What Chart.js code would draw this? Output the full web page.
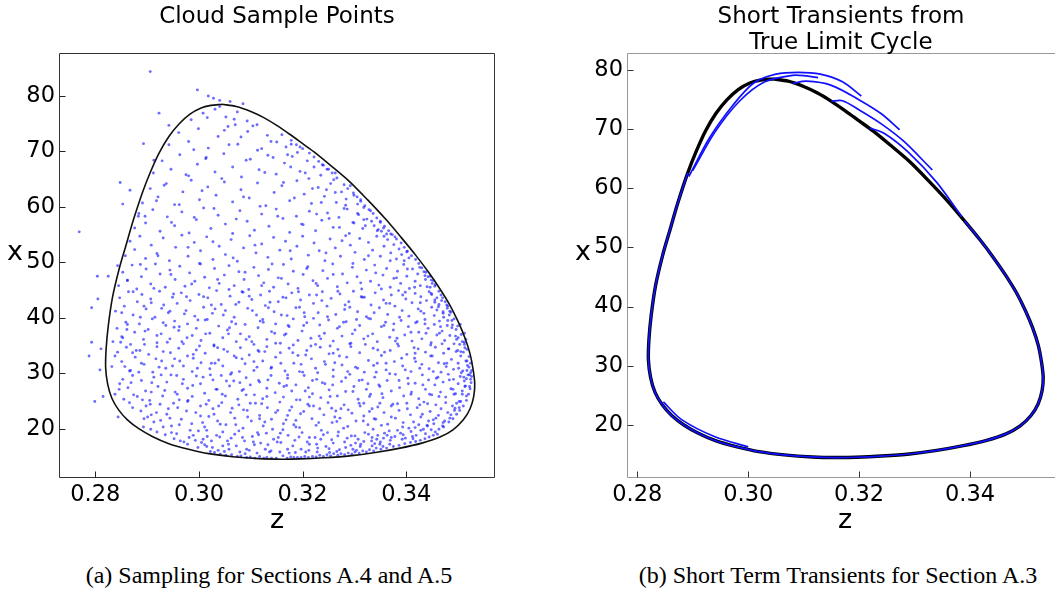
<!DOCTYPE html>
<html>
<head>
<meta charset="utf-8">
<script src="https://cdn.jsdelivr.net/npm/chart.js@4.4.0/dist/chart.umd.min.js"></script>
<style>
body{margin:0;background:#fff;width:1055px;height:593px;overflow:hidden;position:relative;font-family:'DejaVu Sans',sans-serif;color:#000}
canvas{position:absolute;top:0}
#c1{left:0}
#c2{left:540px}
.t{position:absolute;text-align:center;white-space:nowrap}
.ttl{font-size:23px;line-height:25.5px}
.ax{font-size:27px;line-height:30px}
.cap{font-family:'Liberation Serif',serif;font-size:24px;line-height:28px}
</style>
</head>
<body>
<canvas id="c1" width="520" height="530"></canvas>
<canvas id="c2" width="530" height="530"></canvas>
<div class="t ttl" style="left:77px;width:400px;top:3px">Cloud Sample Points</div>
<div class="t ttl" style="left:641px;width:400px;top:3px">Short Transients from<br>True Limit Cycle</div>
<div class="t ax" style="left:0;width:30px;top:236px">x</div>
<div class="t ax" style="left:568px;width:30px;top:236px">x</div>
<div class="t ax" style="left:262px;width:30px;top:504px">z</div>
<div class="t ax" style="left:830px;width:30px;top:504px">z</div>
<div class="t cap" style="left:69px;width:400px;top:561px">(a) Sampling for Sections A.4 and A.5</div>
<div class="t cap" style="left:638px;width:400px;top:561px">(b) Short Term Transients for Section A.3</div>
<script>
'use strict';
// tick labels
var zTicks = [0.28, 0.30, 0.32, 0.34];
var xTicks = [20, 30, 40, 50, 60, 70, 80];

// limit cycle (z, x), clockwise from the top
var cycleZ = [0.3044,0.3072,0.3100,0.3125,0.3150,0.3175,0.3200,0.3225,0.3255,0.3290,0.3325,0.3360,0.3390,0.3418,0.3443,0.3465,0.3484,0.3500,0.3513,0.3523,0.3529,0.3532,0.3530,0.3523,0.3510,0.3490,0.3465,0.3430,0.3388,0.3340,0.3291,0.3240,0.3195,0.3160,0.3116,0.3065,0.3019,0.2980,0.2942,0.2910,0.2884,0.2862,0.2845,0.2832,0.2824,0.2820,0.2821,0.2825,0.2833,0.2846,0.2859,0.2873,0.2891,0.2906,0.2923,0.2942,0.2962,0.2982,0.3003,0.3023,0.3044];
var cycleX = [78.5,78.1,77.2,76.1,74.7,73.1,71.4,69.7,67.4,64.6,61.3,57.8,54.5,51.3,48.2,45.2,42.3,39.3,36.4,33.5,30.6,28.0,25.8,23.6,21.6,19.8,18.5,17.4,16.5,15.7,15.1,14.75,14.55,14.5,14.6,14.95,15.5,16.3,17.3,18.6,20.0,21.6,23.4,25.5,28.0,31.0,34.5,38.5,43.6,48.8,53.0,57.5,62.6,66.2,69.7,72.7,75.0,76.7,77.8,78.3,78.5];

// short transients (z, x)
var trans1 = [[0.2893,62.0],[0.2930,68.5],[0.2972,74.0],[0.3010,77.8],[0.3050,79.3],[0.3090,79.6],[0.3130,79.3],[0.3170,78.0],[0.3204,75.6]];
var trans2 = [[0.2900,63.0],[0.2940,69.5],[0.2985,74.8],[0.3030,78.0],[0.3080,79.1],[0.3105,79.0],[0.3126,78.7]];
var trans3 = [[0.3080,77.7],[0.3105,78.1],[0.3150,77.4],[0.3201,74.9],[0.3240,72.6],[0.3273,69.9]];
var trans4 = [[0.3150,74.7],[0.3170,74.8],[0.3201,73.2],[0.3240,70.9],[0.3280,68.0],[0.3332,63.1]];
var trans5 = [[0.3219,70.2],[0.3245,69.3],[0.3290,66.0],[0.3340,61.0],[0.3385,55.2]];
var trans6 = [[0.2847,23.9],[0.2880,20.9],[0.2940,18.0],[0.3000,16.3]];

// cloud samples, pairs of z*1e4, x*10
var cloudBottom = [3022,159,3041,154,3063,153,3081,151,3099,149,3117,150,3131,148,3149,147,3162,151,3177,149,3190,148,3204,150,3219,150,3233,152,3247,153,3260,155,3274,155,3288,156,3301,158,3316,160,3329,162,3342,165,3355,168,3368,172,
2998,166,3015,168,3037,161,3058,163,3079,158,3097,161,3112,156,3139,160,3156,158,3171,163,3186,157,3212,161,3228,158,3251,164,3266,159,3283,166,3297,163,3311,168,3334,169,3349,172,2978,172,3005,175,2964,178,
3030,157,3052,152,3074,150,3092,148,3108,147,3125,147,3140,147,3170,147,3183,148,3197,148,3211,148,3226,149,3240,150,3254,151,3268,152,3281,153,3295,154,3309,156,3323,158,3337,160,3351,163,3362,165,3375,168,3386,170,3397,173,3408,175,3418,177,3427,179,3436,182,3444,185,3452,188,3460,190,
2952,182,2971,176,2989,188,3008,181,3024,178,3040,185,3057,172,3069,190,3088,178,3103,186,3119,174,3130,192,3144,181,3158,175,3172,188,3185,179,3199,193,3213,184,3227,172,3240,189,3256,180,3269,194,3281,176,3294,187,3307,181,3320,193,3333,178,3345,188,3356,183,3367,196,3378,186,3389,192,3398,183,3409,195,3419,188,3428,197,3437,191,3448,198,3456,194,3463,199,2919,194,2935,189,2907,199,3015,197,3077,196,3162,198,3236,197,3312,172,3350,176,3392,181];

var cloudLower = [2893,203,2901,221,2872,238,2866,247,2888,232,2913,212,2925,244,2938,226,2947,205,2959,238,2966,217,2978,249,2986,209,2994,229,3003,241,3011,203,3019,222,3027,236,3036,214,3044,247,3052,207,3061,229,3069,219,3077,243,3085,201,3093,233,3101,214,3109,246,3117,224,3124,205,3132,238,3140,217,3148,229,3156,248,3163,209,3171,224,3179,239,3187,215,3194,202,3202,231,3210,244,3218,218,3226,206,3233,236,3241,225,3249,247,3257,211,3264,232,3272,219,3280,243,3287,204,3295,228,3303,214,3311,241,3318,223,3326,207,3334,236,3341,217,3349,246,3357,229,3364,208,3371,241,3379,219,3386,233,3393,203,3401,246,3408,225,3414,212,3421,238,3428,221,3434,248,3440,206,3446,231,3452,216,3457,243,3462,224,3467,236,3471,211,3476,247,3480,229,3484,219,3489,241,3493,233,3497,246,3502,238,3505,249,3472,203,
2838,262,2847,281,2855,253,2863,274,2872,296,2881,258,2889,287,2897,268,2905,251,2913,293,2921,276,2930,259,2938,284,2946,297,2954,266,2962,252,2970,289,2978,273,2987,258,2995,295,3003,281,3011,264,3019,251,3027,288,3035,271,3043,296,3051,259,3059,277,3067,286,3075,253,3083,269,3091,292,3099,279,3107,261,3115,287,3123,254,3131,273,3139,296,3147,265,3155,282,3163,257,3171,291,3179,268,3187,279,3195,252,3203,296,3211,274,3219,263,3227,289,3235,256,3243,281,3251,270,3259,294,3267,259,3275,285,3283,267,3291,298,3299,276,3307,253,3315,288,3323,271,3331,262,3339,293,3347,279,3355,256,3363,287,3371,268,3379,298,3387,274,3395,259,3403,291,3410,266,3417,282,3424,254,3431,297,3437,271,3443,288,3449,261,3455,279,3461,293,3466,266,3471,284,3476,257,3481,298,3486,272,3491,289,3495,263,3500,281,3504,294,3508,268,3512,286,3516,259,3519,297,3522,276,3524,289,
2832,312,2843,338,2851,321,2860,347,2868,305,2877,329,2886,341,2894,316,2903,334,2911,302,2919,348,2928,322,2936,309,2945,337,2953,326,2961,345,2970,313,2978,331,2987,303,2995,342,3004,319,3012,336,3021,308,3029,349,3038,324,3046,313,3055,339,3063,301,3072,328,3080,346,3089,317,3097,333,3106,305,3114,341,3123,322,3131,348,3140,311,3148,329,3157,337,3166,304,3174,345,3183,318,3191,332,3200,302,3208,341,3217,326,3225,309,3234,347,3242,321,3251,335,3259,306,3268,343,3276,315,3285,329,3293,348,3302,311,3310,337,3319,302,3327,323,3336,345,3344,318,3352,332,3361,306,3369,341,3377,321,3385,349,3393,313,3401,334,3409,303,3416,327,3423,344,3430,316,3437,338,3444,308,3450,331,3456,347,3462,319,3467,302,3472,336,3477,312,3482,344,3487,325,3491,307,3496,339,3500,318,3505,331,3509,304,3513,346,3517,322,3521,311,3524,301];

var cloudMiddle = [2834,357,2842,381,2851,366,2859,392,2868,352,2876,374,2885,389,2893,361,2902,379,2910,398,2919,355,2927,371,2936,386,2944,362,2953,394,2961,377,2970,353,2978,389,2987,368,2995,381,3004,359,3012,396,3021,372,3029,351,3038,385,3046,364,3055,378,3063,393,3072,357,3080,371,3089,388,3097,366,3106,352,3114,382,3123,397,3131,361,3140,375,3148,389,3157,354,3165,369,3174,384,3182,398,3191,359,3199,376,3208,391,3216,363,3225,352,3233,387,3242,372,3250,396,3259,358,3267,381,3276,367,3284,393,3293,354,3301,378,3310,386,3318,362,3327,399,3335,371,3344,357,3352,384,3360,392,3368,365,3375,378,3383,353,3390,395,3397,369,3404,384,3411,358,3418,391,3424,374,3430,362,3436,397,3442,381,3448,355,3454,388,3459,369,3464,394,3469,376,3474,359,3479,386,3484,368,3488,395,3492,353,3496,379,3500,364,3504,388,3508,357,3512,372,3515,361,
2839,412,2847,436,2856,421,2864,447,2873,405,2881,429,2890,442,2898,416,2907,434,2915,401,2924,448,2932,423,2941,409,2949,437,2958,426,2966,445,2975,413,2983,431,2992,403,3000,442,3009,419,3017,436,3026,408,3034,449,3043,424,3051,413,3060,439,3068,401,3077,428,3085,446,3094,417,3102,433,3111,405,3119,441,3128,422,3136,448,3145,411,3153,429,3162,437,3170,404,3179,445,3187,418,3196,432,3204,402,3213,441,3221,426,3230,409,3238,447,3247,421,3255,435,3264,406,3272,443,3281,415,3289,429,3298,448,3306,411,3315,437,3323,402,3332,423,3340,445,3348,418,3356,432,3364,406,3371,441,3378,421,3385,449,3392,413,3399,434,3405,403,3411,427,3417,444,3423,416,3428,438,3434,408,3439,431,3444,447,3449,419,3454,404,3459,436,3463,424,3467,441,3471,411,3475,429,3479,417,3483,405,3480,421,3484,412,
2845,458,2853,482,2862,467,2871,495,2880,452,2889,474,2898,488,2907,461,2916,497,2925,479,2935,455,2944,486,2954,469,2963,493,2973,457,2982,481,2992,466,3001,498,3011,473,3020,454,3030,489,3039,462,3049,477,3058,494,3068,458,3077,483,3087,469,3096,451,3106,491,3115,476,3125,463,3134,487,3144,455,3153,472,3163,496,3172,461,3182,484,3191,453,3201,478,3210,492,3220,467,3229,458,3239,485,3248,471,3258,497,3267,456,3277,479,3286,463,3296,491,3305,474,3314,452,3323,486,3331,466,3339,495,3347,459,3355,477,3362,489,3369,455,3376,471,3383,484,3389,462,3395,496,3401,475,3406,453,3412,488,3417,466,3422,479,3427,458,3426,491,3437,469,3434,483,3446,455,3442,474,3450,462,3448,468,3455,457];

var cloudUpper = [2858,512,2867,538,2876,523,2886,547,2897,507,2908,531,2919,516,2931,544,2943,503,2955,527,2967,549,2979,511,2991,536,3003,521,3015,546,3027,505,3039,529,3051,514,3062,541,3074,502,3086,526,3098,548,3110,517,3121,533,3133,509,3144,545,3156,522,3167,538,3178,506,3189,529,3200,547,3211,513,3222,535,3232,521,3243,503,3253,542,3263,526,3273,511,3283,548,3292,531,3301,518,3310,543,3319,505,3327,536,3335,522,3343,547,3350,511,3357,529,3364,541,3370,517,3376,532,3381,506,3386,524,3391,514,3396,503,3401,519,3405,508,3378,546,3370,551,
2876,562,2884,588,2897,571,2911,595,2925,556,2939,582,2953,566,2967,591,2981,553,2995,577,3009,598,3023,561,3037,585,3051,569,3065,552,3079,593,3093,574,3107,558,3121,587,3135,565,3149,596,3162,579,3175,554,3188,583,3201,568,3213,592,3225,557,3237,576,3248,589,3259,563,3270,581,3280,597,3290,552,3299,571,3308,586,3316,561,3324,578,3331,593,3338,566,3344,557,3350,574,3356,562,3362,551,3318,599,
2891,607,2906,633,2921,618,2937,642,2953,604,2969,627,2985,648,3001,613,3017,636,3033,621,3049,645,3065,609,3081,631,3097,616,3113,643,3129,602,3145,626,3160,638,3175,611,3189,647,3203,623,3217,606,3230,635,3242,619,3254,642,3265,608,3275,627,3284,614,3292,638,3299,621,3306,605,3312,613,3260,649,
2912,661,2929,683,2946,668,2963,694,2980,656,2997,677,3014,689,3031,663,3048,696,3065,672,3082,654,3099,686,3116,667,3133,693,3149,659,3165,679,3180,691,3195,664,3209,683,3222,672,3235,657,3247,668,3238,676,3263,661,3190,698,
2942,712,2961,734,2980,718,2999,741,3018,706,3037,727,3056,745,3075,713,3094,736,3113,702,3132,729,3150,717,3168,708,3178,713,3195,708,3070,748,2990,703,
2985,757,3008,769,3031,776,3052,762,3074,771,3093,755,3112,748,3040,781,3068,758];

var cloudEdge = [3470,205,3482,212,3490,218,3497,226,3503,233,3510,241,3516,251,3520,262,3523,272,3525,283,3526,294,3526,305,3524,318,3521,330,3517,343,3512,356,3506,370,3499,385,3492,398,3486,410,3478,423,3470,436,3463,448,
3474,214,3486,225,3494,237,3502,249,3508,262,3513,276,3516,290,3517,305,3515,322,3510,338,3503,352,3495,367,3488,382,3480,395,3471,408,3462,420,3455,432,3448,444,3440,456,
3178,720,3200,705,3222,690,3240,675,3257,661,3280,640,3298,625,3312,610,3328,595,3343,580,3358,565,3373,550,3390,535,3402,520,3418,505,3430,490,3446,475,3456,460,
3160,730,3188,712,3213,697,3231,682,3250,668,3266,652,3287,633,3305,618,3320,602,3336,588,3350,572,3366,557,3381,542,3396,527,3410,512,3424,498,3438,482,3452,467];

var cloudFill = [2931,203,2957,191,2944,219,2983,197,3016,186,3007,211,3046,194,3029,226,3071,207,3062,183,3094,221,3113,193,3127,212,3105,176,3142,199,3168,216,3153,184,3187,203,3209,176,3196,227,3231,211,3248,193,3224,184,3262,221,3279,201,3301,187,3288,234,3317,214,3336,199,3329,231,3352,206,3371,221,3363,188,3394,211,3402,236,3383,245,3417,202,3431,226,3426,243,3443,214,2976,232,2918,229,2906,244,2951,246,3003,223,3038,241,3086,234,3121,245,3175,233,3213,241,3256,237,3309,246,3345,239,3092,163,3133,171,3197,163,3245,168,3302,174,3046,169,2993,179,3268,187,3334,184,3369,179,3412,186,
2846,271,2869,283,2857,312,2884,302,2879,341,2908,266,2927,297,2917,326,2949,313,2939,356,2968,281,2989,327,2977,364,3008,293,3001,349,3033,271,3024,318,3048,343,3061,298,3057,371,3083,326,3079,283,3102,357,3112,311,3133,288,3127,339,3158,318,3146,372,3169,278,3182,351,3194,303,3206,333,3219,287,3232,367,3244,316,3258,279,3253,349,3271,331,3287,303,3296,371,3309,287,3321,352,3337,314,3349,276,3358,338,3368,299,3382,363,3391,327,3404,281,3415,346,3426,309,3438,372,3447,331,3458,291,3469,353,3478,318,3490,271,3499,341,3506,301,3514,277,2853,364,2862,388,2896,376,2931,391,2962,384,3016,397,3071,389,3118,394,3172,386,3221,399,3279,392,3331,398,3376,389,3421,393,3466,384,2891,252,2958,262,3091,261,3213,257,3329,258,3445,262,
2851,409,2873,447,2862,468,2894,421,2887,496,2913,453,2928,417,2921,512,2951,443,2946,478,2972,407,2986,461,2979,527,3009,438,3003,497,3031,416,3036,469,3027,537,3058,451,3071,424,3066,508,3089,482,3097,439,3108,531,3121,458,3134,418,3141,497,3159,471,3168,436,3176,521,3192,447,3203,409,3208,489,3226,462,3237,431,3245,517,3259,478,3268,448,3276,539,3291,419,3297,498,3312,463,3319,437,3327,512,3341,481,3352,452,3361,426,3369,503,3381,472,3393,441,3402,488,3416,455,3427,427,3436,476,3449,442,3459,414,3468,431,
2896,583,2918,611,2947,572,2933,639,2962,604,2975,658,2991,581,3006,629,3013,687,3029,597,3044,651,3058,712,3072,578,3086,618,3091,684,3104,746,3118,601,3127,662,3139,718,3152,583,3163,644,3171,694,3184,616,3198,569,3205,661,3219,633,3227,587,3236,608,3251,579,3263,626,3271,563,3286,596,3297,572,3306,588,3321,566,3333,574,3346,559,3357,547,3016,761,3049,738,3081,726,3121,705,3143,689,3177,672,3212,651,3246,631,3283,603,3318,577,3352,556];

var cloudDense = [3011,171,3026,166,3034,188,3049,159,3055,178,3072,169,3084,184,3089,155,3107,171,3115,189,3128,163,3136,158,3151,176,3157,192,3174,156,3181,169,3193,185,3206,158,3213,172,3229,165,3235,181,3252,157,3259,174,3271,162,3286,183,3293,170,3304,161,3318,177,3327,190,3339,173,3343,181,3358,192,3371,184,3383,197,3394,189,3405,201,3413,182,3424,207,3433,199,3441,205,3453,209,2947,193,2962,207,2981,184,2999,196,2926,215,2908,225,2894,218,3041,208,3117,218,3183,207,3266,213,3338,218,3457,219,
2853,289,2866,304,2874,261,2889,318,2898,241,2909,283,2923,311,2934,269,2941,236,2957,296,2963,322,2979,251,2988,278,2997,309,3014,244,3022,297,3031,318,3045,262,3053,286,3064,237,3078,303,3086,271,3099,246,3106,321,3117,284,3131,258,3139,309,3152,233,3164,276,3171,297,3188,252,3197,316,3205,268,3221,241,3229,301,3238,283,3253,258,3262,319,3274,236,3283,292,3297,267,3306,309,3318,246,3326,281,3342,302,3353,263,3361,318,3374,244,3386,287,3398,306,3409,262,3418,321,3432,279,3441,245,3452,303,3463,258,3473,317,3483,288,3492,262,3501,309,3511,293,3518,314,3522,297,
2838,331,2849,356,2861,379,2872,337,2887,401,2895,352,2908,427,2919,368,2931,339,2944,412,2952,383,2967,357,2976,438,2989,334,2998,396,3013,371,3024,423,3036,346,3047,405,3059,382,3068,331,3083,447,3091,361,3103,413,3116,339,3124,392,3137,428,3148,354,3159,405,3168,371,3181,337,3194,419,3202,386,3216,349,3227,441,3235,362,3248,402,3259,336,3271,384,3282,423,3291,353,3304,397,3313,438,3326,367,3338,409,3345,342,3357,386,3368,426,3379,358,3387,401,3398,446,3409,374,3417,336,3428,412,3436,389,3447,351,3455,428,3464,372,3472,401,3481,344,3489,387,3497,361,3505,339,3512,352];

var cloudOutside = [2906,844,2997,811,3018,800,3028,796,3040,792,3060,790,3085,786,2923,769,2942,747,2893,714,2913,684,2848,644,2867,630,2853,605,2769,555,2883,583,2843,494,2825,475,2804,475,2805,434,2793,418,2793,356,2811,344,2788,331,2809,306,2815,258,2799,249,2844,221];

function toPoints(arr) {
  var out = [];
  for (var i = 0; i < arr.length; i += 2) {
    out.push({x: arr[i] / 10000, y: arr[i + 1] / 10});
  }
  return out;
}
function pairPoints(arr) {
  return arr.map(function(p) { return {x: p[0], y: p[1]}; });
}
var cycle = cycleZ.map(function(z, i) { return {x: z, y: cycleX[i]}; });
var cloud = [].concat(toPoints(cloudBottom), toPoints(cloudLower), toPoints(cloudMiddle),
  toPoints(cloudUpper), toPoints(cloudEdge), toPoints(cloudFill), toPoints(cloudDense),
  toPoints(cloudOutside));

// frame and inward tick marks
var framePlugin = {
  id: 'frame',
  afterDatasetsDraw: function(chart, args, o) {
    var ctx = chart.ctx, a = chart.chartArea;
    var L = Math.round(a.left) + 0.5, R = Math.round(a.right) - 0.5;
    var T = Math.round(a.top) + 0.5, B = Math.round(a.bottom) - 0.5;
    ctx.save();
    ctx.lineWidth = 1;
    ctx.strokeStyle = o.color;
    ctx.beginPath();
    ctx.moveTo(R, T); ctx.lineTo(L, T); ctx.lineTo(L, B); ctx.lineTo(R, B);
    if (o.full) { ctx.lineTo(R, T); }
    ctx.stroke();
    ctx.strokeStyle = o.tickColor;
    ctx.beginPath();
    chart.scales.x.ticks.forEach(function(t) {
      var px = Math.round(chart.scales.x.getPixelForValue(t.value)) + 0.5;
      ctx.moveTo(px, B); ctx.lineTo(px, B - 6);
    });
    chart.scales.y.ticks.forEach(function(t) {
      var py = Math.round(chart.scales.y.getPixelForValue(t.value)) + 0.5;
      ctx.moveTo(L, py); ctx.lineTo(L + 6, py);
    });
    ctx.stroke();
    ctx.restore();
  }
};

function scales(zMin, zMax, xMin, xMax, yWidth) {
  var tickFont = {family: 'DejaVu Sans', size: 22.5};
  return {
    x: {
      type: 'linear', min: zMin, max: zMax,
      afterBuildTicks: function(s) { s.ticks = zTicks.map(function(v) { return {value: v}; }); },
      afterFit: function(s) { s.height = 52; },
      grid: {display: false, drawTicks: false}, border: {display: false},
      ticks: {color: '#000', font: tickFont, padding: 4, maxRotation: 0, autoSkip: false,
        callback: function(v) { return Number(v).toFixed(2); }}
    },
    y: {
      type: 'linear', min: xMin, max: xMax,
      afterBuildTicks: function(s) { s.ticks = xTicks.map(function(v) { return {value: v}; }); },
      afterFit: function(s) { s.width = yWidth; },
      grid: {display: false, drawTicks: false}, border: {display: false},
      ticks: {color: '#000', font: tickFont, padding: 4, autoSkip: false,
        callback: function(v) { return String(v); }}
    }
  };
}

var common = {
  responsive: false, animation: false, devicePixelRatio: 1,
  plugins: {legend: {display: false}, tooltip: {enabled: false}}
};

new Chart(document.getElementById('c1'), {
  type: 'scatter',
  data: {
    datasets: [
      {data: cycle, showLine: true, borderColor: '#111', borderWidth: 1.6, pointRadius: 0, tension: 0.3, order: 1},
      {data: cloud, pointRadius: 1.45, pointBorderWidth: 0, backgroundColor: 'rgba(20,20,255,0.62)', order: 2}
    ]
  },
  options: Object.assign({}, common, {
    layout: {padding: {left: 0, top: 53, right: 25, bottom: 0}},
    scales: scales(0.2730, 0.35711, 11.11, 87.75, 59),
    plugins: Object.assign({}, common.plugins, {frame: {color: '#333', tickColor: '#222', full: true}})
  }),
  plugins: [framePlugin]
});

var blueLine = function(pts, ord) {
  return {data: pts, showLine: true, borderColor: '#1010ff', borderWidth: 1.7, pointRadius: 0, tension: 0.3, order: ord};
};

new Chart(document.getElementById('c2'), {
  type: 'scatter',
  data: {
    datasets: [
      {data: cycle, showLine: true, borderColor: '#000', borderWidth: 3.4, pointRadius: 0, tension: 0.3, order: 5},
      blueLine(cycle.slice(12, 53), 4),
      blueLine(pairPoints(trans1), 3),
      blueLine(pairPoints(trans2), 3),
      blueLine(pairPoints(trans3), 3),
      blueLine(pairPoints(trans4), 3),
      blueLine(pairPoints(trans5), 3),
      blueLine(pairPoints(trans6), 3)
    ]
  },
  options: Object.assign({}, common, {
    layout: {padding: {left: 0, top: 53, right: 10, bottom: 0}},
    scales: scales(0.27814, 0.35623, 11.04, 82.87, 87),
    plugins: Object.assign({}, common.plugins, {frame: {color: '#999', tickColor: '#333', full: false}})
  }),
  plugins: [framePlugin]
});
</script>
</body>
</html>
